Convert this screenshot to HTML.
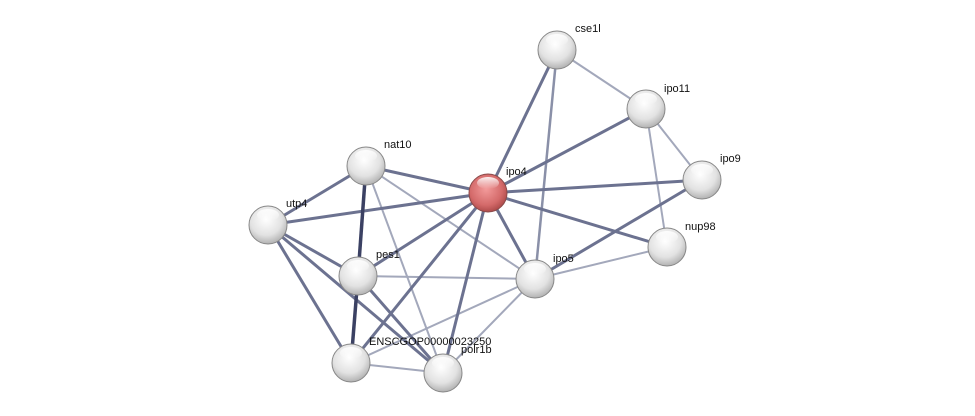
<!DOCTYPE html>
<html><head><meta charset="utf-8"><style>
html,body{margin:0;padding:0;background:#fff;}
svg{display:block}
text{font-family:"Liberation Sans",sans-serif;font-size:11px;fill:#111;}
</style></head><body>
<svg width="975" height="416" viewBox="0 0 975 416" xmlns="http://www.w3.org/2000/svg">
<defs>
<radialGradient id="g" cx="0.45" cy="0.35" r="0.7">
<stop offset="0" stop-color="#ffffff"/><stop offset="0.6" stop-color="#e2e2e2"/><stop offset="1" stop-color="#a8a8a8"/>
</radialGradient>
<radialGradient id="r" cx="0.45" cy="0.4" r="0.7">
<stop offset="0" stop-color="#f29a9a"/><stop offset="0.6" stop-color="#d46a6a"/><stop offset="1" stop-color="#9a3a3a"/>
</radialGradient>
<linearGradient id="hl" x1="0" y1="0" x2="0" y2="1">
<stop offset="0" stop-color="#fff" stop-opacity="0.9"/><stop offset="1" stop-color="#fff" stop-opacity="0"/>
</linearGradient>
</defs>
<g stroke-linecap="butt">
<!-- light edges -->
<g stroke="#a3a8bb" stroke-width="2">
<line x1="366" y1="166" x2="535" y2="279"/>
<line x1="366" y1="166" x2="443" y2="373"/>
<line x1="358" y1="276" x2="535" y2="279"/>
<line x1="351" y1="363" x2="535" y2="279"/>
<line x1="443" y1="373" x2="535" y2="279"/>
<line x1="557" y1="50" x2="646" y2="109"/>
<line x1="646" y1="109" x2="702" y2="180"/>
<line x1="646" y1="109" x2="667" y2="247"/>
<line x1="667" y1="247" x2="535" y2="279"/>
<line x1="351" y1="363" x2="443" y2="373"/>
</g>
<g stroke="#8a90a8" stroke-width="2.5">
<line x1="557" y1="50" x2="535" y2="279"/>
</g>
<!-- medium edges -->
<g stroke="#6c7290" stroke-width="3">
<line x1="488" y1="193" x2="557" y2="50"/>
<line x1="488" y1="193" x2="646" y2="109"/>
<line x1="488" y1="193" x2="702" y2="180"/>
<line x1="488" y1="193" x2="667" y2="247"/>
<line x1="488" y1="193" x2="535" y2="279"/>
<line x1="488" y1="193" x2="366" y2="166"/>
<line x1="488" y1="193" x2="268" y2="225"/>
<line x1="488" y1="193" x2="358" y2="276"/>
<line x1="488" y1="193" x2="351" y2="363"/>
<line x1="488" y1="193" x2="443" y2="373"/>
<line x1="702" y1="180" x2="535" y2="279"/>
<line x1="268" y1="225" x2="366" y2="166"/>
<line x1="268" y1="225" x2="358" y2="276"/>
<line x1="268" y1="225" x2="351" y2="363"/>
<line x1="268" y1="225" x2="443" y2="373"/>
<line x1="358" y1="276" x2="443" y2="373"/>
</g>
<g stroke="#3b4163" stroke-width="3.5">
<line x1="366" y1="166" x2="358" y2="276"/>
<line x1="358" y1="276" x2="351" y2="363"/>
</g>
</g>
<g>
<g transform="translate(557,50)"><circle r="19" fill="url(#g)" stroke="#888" stroke-width="1"/><ellipse cx="0" cy="-10" rx="11" ry="6" fill="url(#hl)"/></g>
<g transform="translate(646,109)"><circle r="19" fill="url(#g)" stroke="#888" stroke-width="1"/><ellipse cx="0" cy="-10" rx="11" ry="6" fill="url(#hl)"/></g>
<g transform="translate(702,180)"><circle r="19" fill="url(#g)" stroke="#888" stroke-width="1"/><ellipse cx="0" cy="-10" rx="11" ry="6" fill="url(#hl)"/></g>
<g transform="translate(667,247)"><circle r="19" fill="url(#g)" stroke="#888" stroke-width="1"/><ellipse cx="0" cy="-10" rx="11" ry="6" fill="url(#hl)"/></g>
<g transform="translate(535,279)"><circle r="19" fill="url(#g)" stroke="#888" stroke-width="1"/><ellipse cx="0" cy="-10" rx="11" ry="6" fill="url(#hl)"/></g>
<g transform="translate(366,166)"><circle r="19" fill="url(#g)" stroke="#888" stroke-width="1"/><ellipse cx="0" cy="-10" rx="11" ry="6" fill="url(#hl)"/></g>
<g transform="translate(268,225)"><circle r="19" fill="url(#g)" stroke="#888" stroke-width="1"/><ellipse cx="0" cy="-10" rx="11" ry="6" fill="url(#hl)"/></g>
<g transform="translate(358,276)"><circle r="19" fill="url(#g)" stroke="#888" stroke-width="1"/><ellipse cx="0" cy="-10" rx="11" ry="6" fill="url(#hl)"/></g>
<g transform="translate(351,363)"><circle r="19" fill="url(#g)" stroke="#888" stroke-width="1"/><ellipse cx="0" cy="-10" rx="11" ry="6" fill="url(#hl)"/></g>
<g transform="translate(443,373)"><circle r="19" fill="url(#g)" stroke="#888" stroke-width="1"/><ellipse cx="0" cy="-10" rx="11" ry="6" fill="url(#hl)"/></g>
<g transform="translate(488,193)"><circle r="19" fill="url(#r)" stroke="#8a4a4a" stroke-width="1"/><ellipse cx="0" cy="-10" rx="11" ry="6" fill="url(#hl)"/></g>
</g>
<text x="575" y="32">cse1l</text>
<text x="664" y="92">ipo11</text>
<text x="720" y="162">ipo9</text>
<text x="685" y="230">nup98</text>
<text x="553" y="262">ipo5</text>
<text x="506" y="175">ipo4</text>
<text x="384" y="148">nat10</text>
<text x="286" y="207">utp4</text>
<text x="376" y="258">pes1</text>
<text x="369" y="345">ENSCGOP00000023250</text>
<text x="461" y="353">polr1b</text>
</svg>
</body></html>
